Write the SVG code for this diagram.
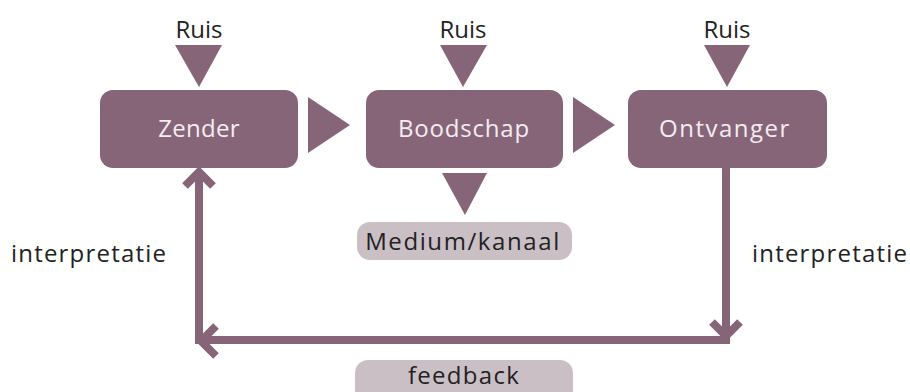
<svg xmlns="http://www.w3.org/2000/svg" width="910" height="392" viewBox="0 0 910 392">
<style>
.box{fill:#876578}
.pill{fill:#cbbfc6}
.tri{fill:#876578}
.line{fill:none;stroke:#876578;stroke-width:8}
.head{fill:none;stroke:#876578;stroke-width:8;stroke-linejoin:miter;stroke-linecap:butt}
.wt{font-family:"Open Sans","Noto Sans",sans-serif;font-size:24px;fill:#f4ecf1;text-anchor:middle}
.dt{font-family:"Open Sans","Noto Sans",sans-serif;font-size:24px;fill:#222;text-anchor:middle}
.lt{font-family:"Open Sans","Noto Sans",sans-serif;font-size:24px;fill:#222;letter-spacing:1.2px}
</style>
<rect width="910" height="392" fill="#ffffff"/>
<g id="ruis1"><text class="dt" x="199" y="38">Ruis</text></g>
<g id="ruis2"><text class="dt" x="463" y="38">Ruis</text></g>
<g id="ruis3"><text class="dt" x="727" y="38">Ruis</text></g>
<g id="zender"><rect class="box" x="100" y="90" width="198" height="78" rx="13"/><text class="wt" x="199" y="137" style="letter-spacing:0.3px">Zender</text></g>
<g id="boodschap"><rect class="box" x="366" y="90" width="197" height="78" rx="13"/><text class="wt" x="464" y="137" style="letter-spacing:0.8px">Boodschap</text></g>
<g id="ontvanger"><rect class="box" x="628" y="90" width="199" height="78" rx="13"/><text class="wt" x="725" y="137" style="letter-spacing:1.5px">Ontvanger</text></g>
<g id="medium"><rect class="pill" x="357" y="222" width="215" height="38" rx="13"/><text class="dt" x="463" y="250" style="letter-spacing:1.6px">Medium/kanaal</text></g>
<g id="feedback"><rect class="pill" x="355" y="360" width="218" height="44" rx="13"/><text class="dt" x="464" y="384" style="letter-spacing:1.3px">feedback</text></g>
<g id="interpretatie-links"><text class="lt" x="11" y="262">interpretatie</text></g>
<g id="interpretatie-rechts"><text class="lt" x="752" y="262">interpretatie</text></g>
<g id="connectors">
<polygon class="tri" points="175,45 222,45 199,87"/>
<polygon class="tri" points="440,45 487,45 463,87"/>
<polygon class="tri" points="704,45 750,45 727,87"/>
<polygon class="tri" points="308,97 350,125 308,153"/>
<polygon class="tri" points="573,97 615,125 573,153"/>
<polygon class="tri" points="442,173 487,173 465,215"/>
<line class="line" x1="726" y1="168" x2="726" y2="340"/>
<line class="line" x1="730" y1="340" x2="199" y2="340"/>
<line class="line" x1="199" y1="344" x2="199" y2="172"/>
<polyline class="head" points="712,322 726,336 740,322"/>
<polyline class="head" points="216,326 201,341 216,356"/>
<polyline class="head" points="185,186 199,172 213,186"/>
</g>
</svg>
